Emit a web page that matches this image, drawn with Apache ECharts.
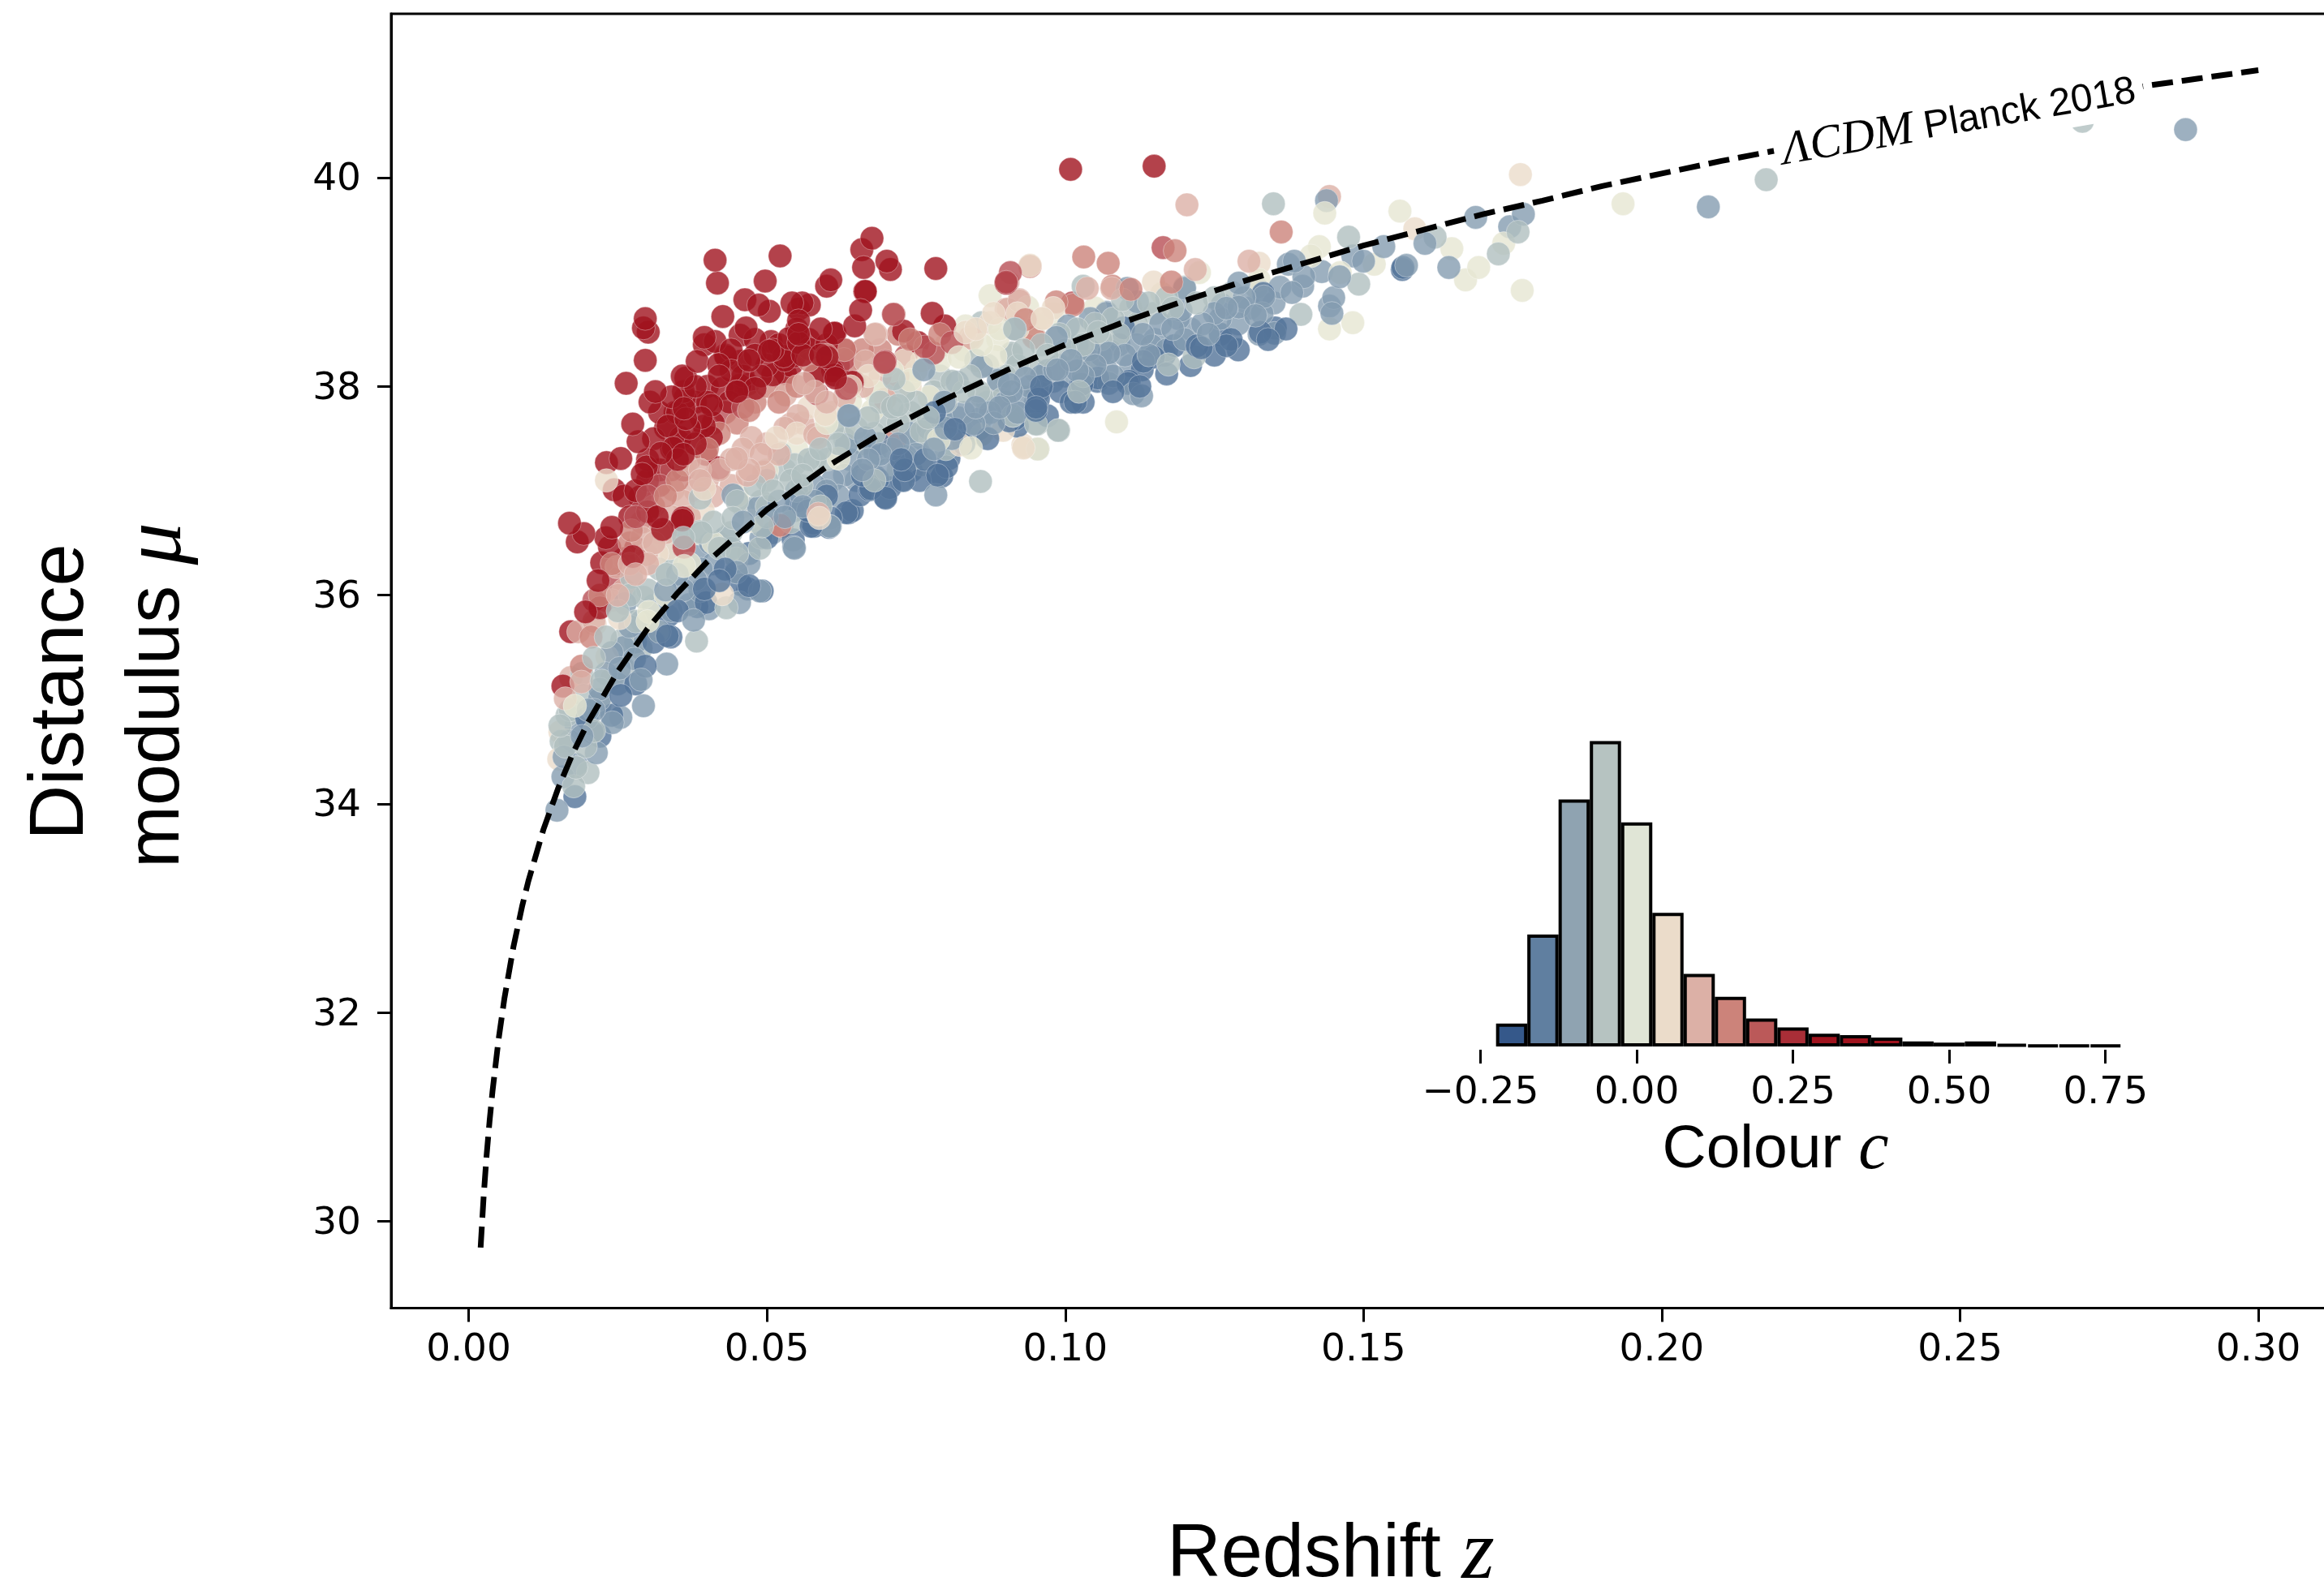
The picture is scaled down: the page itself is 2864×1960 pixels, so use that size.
<!DOCTYPE html>
<html>
<head>
<meta charset="utf-8">
<script src="https://cdn.jsdelivr.net/npm/echarts@6/dist/echarts.min.js"></script>
<style>html,body{margin:0;padding:0;background:#fff}#c{width:2864px;height:1960px}</style>
</head>
<body>
<div id="c"></div>
<script>
// Model curve: redshift and distance modulus
const curveZ = [.002,.0025,.003,.0035,.004,.005,.006,.0075,.009,.01,.0125,.015,.0175,.02,.025,.03,.035,.04,.05,.06,.07,.08,.09,.1,.11,.12,.13,.14,.15,.16,.17,.18,.19,.2,.21,.22,.23,.24,.25,.26,.27,.28,.29,.3];
const curveMu = [29.75,30.23,30.63,30.96,31.25,31.74,32.14,32.63,33.03,33.26,33.75,34.15,34.49,34.78,35.27,35.68,36.02,36.32,36.82,37.23,37.58,37.88,38.15,38.40,38.62,38.82,39.01,39.18,39.35,39.50,39.65,39.78,39.92,40.04,40.16,40.27,40.38,40.48,40.58,40.68,40.78,40.87,40.95,41.03];

// Supernovae [z, mu], grouped by colour bin
const snBlue = [[.0178,34.07],[.0255,35.04],[.0198,34.82],[.0207,34.69],[.0339,35.60],[.0334,35.80],[.0449,36.23],[.0420,36.14],[.0470,36.09],[.0574,36.66],[.0633,36.79],[.0398,35.93],
[.1098,38.56],[.0953,37.93],[.0951,37.77],[.0960,38.0],[.1028,38.02],[.1055,38.08],[.0688,37.45],[.0801,37.23],[.0785,37.15],[.0781,37.75],[.0699,36.93],[.0672,37.01],[.0686,37.11],[.0643,36.81],[.0742,37.19],[.0579,36.66],[.0815,37.59],[.1010,37.85],[.1105,38.03],[.0906,37.67],
[.1565,39.12],[.1260,38.50],[.1270,38.39],[.1221,38.39],[.1131,38.24],[.1148,38.28],[.1107,38.05],[.1026,38.02],[.0954,37.95],[.0951,37.80],[.1017,37.85],[.1183,38.39],[.1332,38.89],[.0916,37.69],
[.0637,36.79],[.0698,36.94],[.0786,37.15],[.0729,37.10],[.0674,37.02],[.0577,36.69],[.0604,36.65],[.0492,36.04],[.0468,36.06],[.0395,36.06],[.1566,39.14],
[.0656,36.96],[.0706,37.03],[.0756,37.10],[.0793,37.14],[.0681,37.14],[.0731,37.20],[.0569,36.81],[.0607,36.74],[.0544,36.53],[.0457,36.10],[.0383,35.89],[.0333,35.61],[.0296,35.32],[.0955,37.88],[.0992,37.95],[.1054,38.05],[.1129,38.16],[.1166,38.30],[.1228,38.37],[.1278,38.45],[.1327,38.52],[.1352,38.56],[.0905,37.74],[.0855,37.59],[.0805,37.31],
[.0725,37.3],[.0765,37.3],[.083,37.45],[.087,37.5],[.092,37.62],[.097,37.72],[.103,37.85],[.108,37.95],[.1125,38.0],[.117,38.12],[.121,38.2],[.125,38.3],[.129,38.35],[.134,38.45],[.137,38.55],[.066,37.15],[.06,36.95],[.055,36.9],[.05,36.55],[.047,36.4],[.043,36.25],[.035,35.85],[.031,35.55],[.028,35.15],[.024,34.85],[.022,34.65]];
const snRed = [[.1009,40.08],[.1149,40.11],[.0413,39.21],[.0417,38.99],[.0522,39.25],[.0497,39.01],[.0676,39.42],[.0659,39.31],[.0701,39.20],[.0707,39.12],[.0662,39.14],[.0783,39.13],[.0607,39.02],[.0600,38.96],[.0664,38.91],[.0657,38.73],[.0777,38.70],[.0798,38.58],[.0729,38.53],[.0753,38.42],[.0463,38.83],[.0486,38.78],[.0504,38.72],[.0426,38.67],[.0542,38.80],[.0559,38.80],[.0571,38.78],[.0553,38.74],[.0553,38.63],[.0465,38.56],[.0296,38.65],[.0293,38.56],[.0301,38.52],[.0296,38.25],[.0264,38.03],[.0313,37.95],[.0304,37.85],[.0275,37.64],[.0284,37.47],[.0255,37.31],[.0231,37.27],[.0244,37.01],[.0169,36.69],[.0193,36.59],[.0182,36.51],[.0230,36.55],[.0236,36.46],[.0223,36.31],[.0217,36.14],[.0647,38.58],[.0613,38.51],[.0395,38.47],[.0413,38.43],[.0455,38.49],[.0507,38.43],[.0553,38.50],[.0553,38.42],[.0537,38.46],[.0571,38.36],[.0395,38.40],[.0431,38.29],[.0455,38.24],[.0419,38.21],[.0383,38.24],[.0504,38.34],[.0528,38.29],[.0546,38.29],[.0510,38.11],[.0531,38.12],[.0601,38.28],[.0613,38.11],[.0358,38.10],[.0364,38.08],[.0425,37.98],[.0455,38.01],[.0468,38.02],[.0449,37.95],[.0480,37.98],[.0407,37.82],[.0437,37.85],[.0363,37.89],[.0346,37.75],[.0361,37.79],[.0364,37.69],[.0334,37.62],[.0395,37.62],[.0407,37.51],[.0355,37.51],[.0352,37.47],[.0322,37.36],[.0343,37.41],[.0291,37.16],[.0298,37.23],[.0398,37.35],[.0419,37.22],[.0287,36.94],[.0316,36.75],[.0325,36.63],[.0358,36.72],
[.0158,35.13],[.0220,35.88],[.0171,35.65],[.0280,36.45],[.0275,36.37],[.0196,35.84],[.0359,36.74],[.0665,38.91],[.0614,38.51],[.0600,38.26],[.0615,38.08],[.0643,38.04],[.0901,38.99],
[.034,37.9],[.036,37.95],[.038,37.85],[.04,38.0],[.042,38.1],[.044,38.15],[.046,38.1],[.048,38.3],[.05,38.2],[.052,38.4],[.054,38.2],[.056,38.3],[.058,38.1],[.06,38.4],[.062,38.2],[.03,37.3],[.032,37.2],[.034,37.4],[.036,37.35],[.037,37.6],[.039,37.7],
[.028,37.0],[.03,37.1],[.031,37.5],[.033,37.6],[.035,37.3],[.038,37.45],[.038,38.0],[.04,37.85],[.041,37.65],[.043,38.3],[.045,37.95],[.047,38.25],[.049,38.1],[.051,38.35],[.053,38.25],[.055,38.55],[.057,38.45],[.059,38.3],[.059,38.55],[.061,38.15],[.063,38.35],[.027,36.75],[.026,36.95],[.025,36.3],[.024,36.65],[.03,36.8],[.044,38.35],[.048,38.45],[.035,37.75],[.032,37.75]];
const snRose = [[.0243,36.15],[.0633,37.98],[.0901,39.0],[.0908,39.09],[.1164,39.33],[.0779,38.32],[.0733,38.29],[.0697,38.23],[.0810,38.42],[.0765,38.38],[.0629,38.26],[.0584,37.93],[.0935,38.64],[.1012,38.80],[.0712,38.69],[.0698,38.24],[.0361,36.46],[.0647,38.04],[.0637,37.98],
[.021,35.95],[.026,36.35],[.028,36.75],[.03,36.95],[.032,37.05],[.034,37.2],[.036,37.2],[.039,37.5],[.043,37.75],[.046,37.8]];
const snSalmon = [[.0273,36.62],[.0189,35.32],[.0361,36.46],[.0525,36.66],[.0941,39.15],[.1031,39.24],[.1072,39.18],[.1184,39.30],[.1362,39.48],[.0985,38.81],[.1013,38.78],[.1079,38.96],[.1110,38.93],[.1178,39.0],[.0933,38.64],[.0947,38.47],[.0713,38.69],[.0205,35.60],[.0715,37.49],[.0470,37.77],[.0522,36.67],
[.022,36.0],[.024,36.3],[.027,36.5],[.029,36.7],[.031,36.85],[.033,36.95],[.035,37.1],[.037,37.3],[.04,37.4],[.042,37.55],[.045,37.65],[.048,37.85],[.052,37.85],[.055,38.0],[.058,38.1],[.061,38.2],[.064,38.25],
[.05,38.0],[.053,38.05],[.057,38.25],[.06,38.3],[.063,38.35],[.066,38.35],[.069,38.35],[.072,38.5],[.074,38.45],[.079,38.5]];
const snPink = [[.0311,36.50],[.0298,36.39],[.0248,36.27],[.0184,35.65],[.0171,35.21],[.0189,35.17],[.0162,35.01],[.0665,38.24],[.0681,38.50],[.0844,38.46],[.0901,38.74],[.0923,38.83],[.1037,38.94],[.1078,38.94],[.0697,37.88],[.0586,37.51],[.0949,38.47],[.1204,39.74],[.1443,39.82],[.1308,39.20],[.1218,39.12],[.0923,38.82],[.0904,38.74],[.0683,38.50],[.0662,38.24],[.0562,38.03],[.0580,37.95],[.0531,37.92],[.0474,37.51],[.0580,37.54],[.0552,37.72],[.0540,37.64],[.0449,37.31],[.0388,37.20],[.0364,37.25],[.0467,37.15],[.0495,37.18],[.0343,37.01],[.0322,37.07],[.0388,37.10],[.0586,36.78],[.0698,37.88],[.0904,39.0],[.0840,38.47],
[.024,35.95],[.026,36.05],[.028,36.2],[.03,36.3],[.032,36.6],[.034,36.75],[.036,36.9],[.038,37.0],[.04,37.1],[.042,37.2],[.044,37.3],[.046,37.4],[.05,37.45],[.053,37.6],[.056,37.65],[.06,37.85],[.063,37.9],[.066,38.0],[.069,38.1],[.072,38.1],
[.021,35.75],[.023,35.95],[.025,36.0],[.027,36.3],[.029,36.55],[.033,36.6],[.037,36.75],[.041,36.95],[.044,37.05],[.047,37.2],[.049,37.35],[.052,37.35]];
const snCream = [[.0232,35.41],[.0151,34.43],[.0162,34.61],[.0153,34.69],[.0425,36.01],[.0586,36.77],[.0253,35.78],[.0337,36.45],[.0393,36.81],[.0212,35.72],[.0962,38.65],[.0599,37.72],[.0874,38.61],[.0930,37.41],[.0896,37.58],[.0740,38.00],[.0672,37.15],[.0833,38.52],[.0588,36.74],[.0824,37.44],[.1763,40.03],[.1586,39.51],[.0931,37.42],[.1325,39.18],[.0598,37.73],[.0516,37.51],[.0310,36.50],[.0316,36.40],[.0671,37.15],[.0941,39.16],[.0929,37.44],[.0395,37.02],[.0231,37.10],[.0961,38.65],[.1148,39.0],
[.055,37.55],[.057,37.8],[.061,37.75],[.064,38.0],[.067,38.1],[.07,38.2],[.073,38.25],[.076,38.25],[.08,38.4],[.085,38.55],[.088,38.7],[.092,38.7],[.098,38.75]];
const snSlate = [[.0545,36.81],[.0262,35.92],[.0384,36.42],[.0253,35.30],[.0278,35.39],[.0219,35.00],[.0241,34.78],[.0158,34.26],[.0255,34.83],[.0293,34.94],[.0289,35.19],[.0332,35.34],[.0488,36.04],[.0545,36.46],[.0388,36.04],[.0370,35.91],[.0403,35.87],[.0377,35.76],[.0454,35.93],[.0606,36.66],[.0214,34.49],[.0148,33.94],[.0180,34.38],
[.0638,37.72],[.0763,38.16],[.0860,38.19],[.0665,37.51],[.0733,37.33],[.0633,37.44],[.0819,38.04],[.0906,38.02],[.0847,37.64],[.0874,37.75],[.1073,38.32],[.1005,38.58],[.1042,38.65],[.1069,38.71],[.0987,38.16],[.0985,38.47],[.0605,36.66],[.0783,36.96],[.0726,37.10],[.0681,37.36],[.0801,37.64],[.0797,37.85],[.0933,38.08],[.1114,37.93],[.1073,38.03],
[.1688,39.62],[.1768,39.65],[.1745,39.53],[.1643,39.14],[.1534,39.34],[.1438,39.78],[.1482,39.25],[.1384,39.2],[.1374,39.17],[.1603,39.37],[.1572,39.16],[.1128,37.91],[.1351,38.51],[.1325,38.5],[.1398,38.96],[.1443,38.77],[.1447,38.70],[.1291,38.99],[.1200,38.94],[.1104,38.94],[.1121,38.81],[.1069,38.70],[.1263,38.78],[.1319,38.68],[.1291,38.76],[.1333,38.86],[.1194,38.73],[.1145,38.39],[.1076,38.34],[.1020,38.39],[.0982,38.16],[.0916,38.55],[.0913,37.72],[.0888,38.06],[.2878,40.46],[.2078,39.72],
[.0637,37.72],[.0546,36.45],[.0449,36.22],[.0443,36.96],[.0486,36.84],
[.0405,36.5],[.043,36.55],[.046,36.7],[.05,36.75],[.052,36.9],[.055,37.0],[.058,37.05],[.061,37.1],[.064,37.3],[.066,37.2],[.069,37.35],[.072,37.45],[.075,37.35],[.077,37.6],[.079,37.55],[.082,37.7],[.085,37.8],[.088,37.65],[.09,37.85],[.093,37.9],[.096,38.1],[.098,38.05],[.1,38.1],[.102,38.15],[.105,38.2],[.108,38.1],[.11,38.3],[.112,38.4],[.115,38.45],[.118,38.55],[.12,38.45],[.123,38.6],[.126,38.65],[.129,38.6],[.131,38.75],[.135,38.8],[.138,38.9],
[.02,34.9],[.022,35.1],[.024,35.45],[.027,35.7],[.029,35.75],[.031,35.9],[.033,36.05],[.035,36.2],[.037,36.3],[.038,36.15],
[.047,36.3],[.049,36.55],[.051,36.6],[.053,36.75],[.056,36.85],[.058,36.9],[.06,37.0],[.062,36.95],[.063,37.15],[.065,37.1],[.067,37.3],[.07,37.2],[.071,37.4],[.073,37.3],[.074,37.55],[.076,37.5],[.078,37.4],[.08,37.6],[.081,37.5],[.083,37.75],[.084,37.6],[.086,37.7],[.087,37.85],[.089,37.8],[.091,37.95],[.092,37.75],[.094,38.0],[.095,37.85],[.097,38.15],[.099,38.2],[.101,38.25],[.103,38.1],[.104,38.35],[.106,38.3],[.107,38.15],[.109,38.4],[.111,38.2],[.113,38.5],[.114,38.3],[.116,38.6],[.117,38.35],[.119,38.65],[.121,38.55],[.124,38.5],[.127,38.75],[.13,38.85],[.133,38.7],[.136,38.95],[.14,39.05],[.143,39.1],[.146,39.05],[.15,39.2],[.125,38.7],[.145,38.85],
[.016,34.45],[.017,34.6],[.018,34.75],[.019,34.65],[.021,34.9],[.023,35.25],[.025,35.15],[.026,35.5],[.028,35.55],[.03,35.7],[.032,35.65],[.034,35.85],[.036,36.05],[.039,36.25],[.041,36.3],[.044,36.45]];
const snGrey = [[.0382,35.56],[.0153,34.75],[.0162,34.55],[.0196,34.55],[.0176,34.17],[.0273,36.17],[.0293,35.98],[.0332,36.2],[.0443,36.74],[.0488,36.45],[.0450,36.40],[.0280,35.75],[.0257,35.57],[.0289,35.49],[.0223,35.18],[.0432,35.88],[.0193,35.04],
[.0954,37.40],[.0988,37.58],[.0858,37.09],[.0953,37.64],[.0720,37.82],[.0713,38.07],[.0912,37.72],[.0894,37.88],[.0774,37.50],[.0751,37.54],[.0860,38.61],[.0915,38.55],[.1096,38.83],[.1023,38.24],[.1037,38.24],[.0983,38.16],[.0910,38.32],[.1023,37.95],
[.1349,39.75],[.1475,39.43],[.1726,39.27],[.1620,39.43],[.0989,37.58],[.1492,38.98],[.1173,38.21],[.1216,38.28],[.1030,38.96],[.1395,38.69],[.1759,39.48],[.2175,39.98],[.2705,40.54],[.0951,37.64],[.1055,38.52],
[.0388,36.93],[.0580,37.29],[.0546,37.25],[.0522,37.36],[.0713,38.08],[.0710,37.80],[.0759,37.57],[.0783,37.51],[.0388,36.61],[.0358,36.66],[.0449,36.35],[.0419,36.50],[.0492,36.66],[.0558,37.05],
[.045,36.9],[.048,37.05],[.05,37.1],[.053,37.2],[.056,37.15],[.059,37.4],[.062,37.45],[.065,37.6],[.068,37.55],[.07,37.7],[.074,37.75],[.077,37.7],[.08,37.85],[.083,37.95],[.086,37.9],[.089,38.0],[.092,38.2],[.095,38.15],[.097,38.3],[.1,38.35],[.103,38.4],[.106,38.45],[.109,38.5],[.112,38.6],[.115,38.7],[.118,38.75],[.122,38.8],[.125,38.85],[.128,38.9],[.132,38.95],
[.019,35.25],[.021,35.4],[.023,35.6],[.025,35.85],[.027,36.0],[.03,36.05],[.032,36.25],[.034,36.4],[.036,36.55],[.039,36.6],[.041,36.7],
[.042,36.45],[.044,36.6],[.046,36.85],[.049,36.9],[.051,37.0],[.054,37.1],[.057,37.3],[.06,37.3],[.061,37.6],[.063,37.5],[.066,37.45],[.067,37.7],[.069,37.85],[.072,37.65],[.073,37.95],[.075,37.85],[.078,37.95],[.079,38.1],[.081,38.05],[.084,38.1],[.085,38.25],[.087,38.2],[.09,38.1],[.091,38.3],[.093,38.35],[.096,38.4],[.099,38.5],[.102,38.55],[.105,38.6],[.108,38.65],[.111,38.75],[.114,38.8],[.117,38.85],[.12,38.95],[.0855,37.95],[.08,37.4],[.076,37.25],[.072,37.2],[.068,37.1],[.059,36.85],[.054,36.7],[.05,36.85],[.026,35.3],[.024,35.2],[.022,34.95],[.021,34.7],[.018,34.35],[.017,34.9],[.0165,34.85],[.0155,34.6],[.02,34.3]];
const snPale = [[.0178,34.94],[.0361,36.28],[.0302,35.84],[.0316,35.65],[.0475,36.71],[.0387,36.59],[.0874,38.87],[.0822,38.28],[.0883,38.29],[.0740,38.06],[.0620,37.31],[.0677,37.77],[.0772,37.90],[.0858,37.54],[.0842,37.41],[.0788,37.49],[.0683,37.95],[.0937,38.76],[.0887,38.45],[.0833,38.58],[.0629,37.59],[.1086,37.66],
[.1561,39.68],[.1435,39.66],[.1225,39.09],[.0860,37.54],[.1735,39.37],[.1671,39.02],[.1935,39.75],[.1766,38.92],[.1518,39.17],[.1461,39.09],[.1648,39.32],[.1412,39.25],[.1693,39.14],[.1482,38.61],[.1443,38.55],[.0954,37.40],[.1325,39.02],[.1162,38.89],[.1426,39.34],
[.03,35.75],[.033,36.0],[.037,36.3],[.041,36.5],[.045,36.95],[.05,37.2],[.055,37.4],[.06,37.65],[.064,37.85],[.068,37.95],[.071,38.15],[.075,38.15],[.079,38.25],[.083,38.35],[.086,38.4],[.089,38.55],[.092,38.55],[.095,38.6],[.098,38.7],[.105,38.75]];
// Inset histogram of colour c
const histBins = [-.2,-.15,-.1,-.05,0,.05,.1,.15,.2,.25,.3,.35,.4,.45,.5,.55,.6,.65,.7,.75];
const histCounts = [18,88,194,240,176,105,57,39,22,15,10,9,7,4,3,4,2,1,1,1];
// Tick labels
const zTicks = [0,.05,.1,.15,.2,.25,.3];
const muTicks = [30,32,34,36,38,40];
const cTicks = [-.25,0,.25,.5,.75];

const histColors = ['#35588a','#607fa0','#8fa3b1','#b6c3c1','#e0e5d6','#ebdcca','#dcb0a6','#cc837a','#bb5959','#a92e37','#a0131e','#a0131e','#a0131e','#a0131e','#a0131e','#a0131e','#a0131e','#a0131e','#a0131e','#a0131e'];
const groups = [
  [snBlue,'#527399'],[snRed,'#a0131e'],[snRose,'#b84f55'],[snSalmon,'#cc837a'],[snPink,'#dcb0a6'],
  [snCream,'#ebdcca'],[snSlate,'#859cb0'],[snGrey,'#b0bfbf'],[snPale,'#e6e6d2']
];
// Original draws points in catalogue order, so colours interleave: visit them with a fixed stride
const allPoints = groups.flatMap(([pts,color])=>pts.map(p=>({value:p,itemStyle:{color}})));
const stride = 617;
const mixedPoints = allPoints.map((_,i)=>allPoints[(i*stride)%allPoints.length]);

const sansTick = 'DejaVu Sans';
const head = 'Liberation Sans', mathFace = 'Liberation Serif';
const richFor = (s, m) => ({ a:{fontFamily:head,fontSize:s,color:'#000'}, b:{fontFamily:mathFace,fontStyle:'italic',fontSize:m,color:'#000'} });
const lineStyle = {color:'#000',width:3};

const chart = echarts.init(document.getElementById('c'), null, {width:2864,height:1960});
chart.setOption({
  animation:false,
  backgroundColor:'#fff',
  grid:[
    {left:482,top:17,width:2400,height:1595.5,show:true,borderColor:'#000',borderWidth:3,backgroundColor:'transparent',outerBoundsMode:'none'},
    {left:1824.4,top:913.4,width:789.6,height:376.6,outerBoundsMode:'none'}
  ],
  xAxis:[
    {type:'value',gridIndex:0,min:-0.013,max:0.31345,splitLine:{show:false},axisLine:{show:true,onZero:false,lineStyle},
     axisTick:{show:true,length:17,lineStyle,customValues:zTicks},
     axisLabel:{fontFamily:sansTick,fontSize:47,color:'#000',margin:29,customValues:zTicks,formatter:v=>v.toFixed(2)}},
    {type:'value',gridIndex:1,min:-0.25,max:0.775,offset:4,splitLine:{show:false},axisLine:{show:false,onZero:false},
     axisTick:{show:true,length:17,lineStyle,customValues:cTicks},
     axisLabel:{fontFamily:sansTick,fontSize:47,color:'#000',margin:30,customValues:cTicks,formatter:v=>(v<0?'\u2212':'')+Math.abs(v).toFixed(2)}}
  ],
  yAxis:[
    {type:'value',gridIndex:0,min:29.17,max:41.57,splitLine:{show:false},axisLine:{show:true,onZero:false,lineStyle},
     axisTick:{show:true,length:17,lineStyle,customValues:muTicks},
     axisLabel:{fontFamily:sansTick,fontSize:47,color:'#000',margin:37,verticalAlign:'top',lineHeight:6,customValues:muTicks}},
    {type:'value',gridIndex:1,min:0,max:240,show:false}
  ],
  series:[
    {type:'scatter',xAxisIndex:0,yAxisIndex:0,data:mixedPoints,symbol:'circle',symbolSize:29,
      itemStyle:{opacity:.8,borderColor:'rgba(255,255,255,.45)',borderWidth:1},silent:true,z:2},
    {type:'line',xAxisIndex:0,yAxisIndex:0,data:curveZ.map((z,i)=>[z,curveMu[i]]),showSymbol:false,symbol:'none',
      lineStyle:{color:'#000',width:7,type:[26,11],cap:'butt'},z:3},
    {type:'bar',xAxisIndex:1,yAxisIndex:1,barWidth:'100%',
      data:histBins.map((c,i)=>({value:[c,histCounts[i]],itemStyle:{color:histColors[i],borderColor:'#000',borderWidth:4}}))}
  ],
  graphic:[
    {type:'text',z:100,x:2414,y:150,rotation:9.8*Math.PI/180,
     style:{text:'{b|\u039bCDM}{a|\u00a0Planck 2018}',align:'center',verticalAlign:'middle',backgroundColor:'#fff',padding:[2,10,2,10],rich:richFor(48,58)}},
    {type:'text',z:100,x:1640,y:1918,style:{text:'{a|Redshift\u00a0}{b|z}',align:'center',verticalAlign:'middle',rich:richFor(92,104)}},
    {type:'text',z:100,x:2188,y:1418,style:{text:'{a|Colour\u00a0}{b|c}',align:'center',verticalAlign:'middle',rich:richFor(75,84)}},
    {type:'text',z:100,x:76,y:853,rotation:Math.PI/2,style:{text:'{a|Distance}',align:'center',verticalAlign:'middle',rich:richFor(94,92)}},
    {type:'text',z:100,x:195,y:857,rotation:Math.PI/2,style:{text:'{a|modulus\u00a0}{b|\u03bc}',align:'center',verticalAlign:'middle',rich:richFor(92,104)}}
  ]
});
</script>
</body>
</html>
